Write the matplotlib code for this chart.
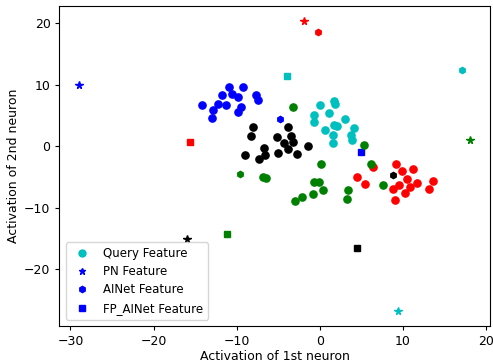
import matplotlib
matplotlib.use("Agg")
import matplotlib.pyplot as plt
from matplotlib.lines import Line2D

plt.rcParams["font.size"] = 9
plt.rcParams["xtick.major.size"] = 3.2
plt.rcParams["ytick.major.size"] = 3.2
plt.rcParams["xtick.major.pad"] = 3.0
plt.rcParams["ytick.major.pad"] = 3.0

classes = ["c", "b", "r", "g", "k"]

query_x = {
    "c": [-0.04, 1.68, 1.85, -0.76, 1.08, -0.67, 3.0, 0.56, 1.64, 2.09, 4.08, 1.6, 3.69, 3.89, 1.52],
    "b": [-10.96, -9.2, -11.76, -10.6, -9.84, -7.68, -7.44, -14.17, -12.2, -11.24, -9.44, -12.9, -9.8, -13.0],
    "r": [9.13, 9.9, 11.25, 10.5, 9.53, 11.69, 10.89, 8.81, 10.2, 13.57, 13.13, 8.97, 6.36, 4.49, 5.45],
    "g": [-3.2, 5.28, 0.12, 6.17, -6.8, -6.48, -0.72, -0.07, 0.36, -0.88, -2.11, -2.95, 3.41, 3.2, 7.6],
    "k": [-8.04, -3.8, -8.24, -5.11, -3.43, -4.36, -3.19, -1.44, -6.76, -3.84, -8.96, -6.6, -5.0, -2.76, -7.36],
}
query_y = {
    "c": [6.61, 7.26, 6.88, 5.1, 5.36, 3.9, 4.33, 2.55, 3.41, 3.2, 2.99, 1.79, 1.85, 0.97, 0.55],
    "b": [9.58, 9.58, 8.23, 8.5, 7.95, 8.28, 7.42, 6.61, 6.88, 6.66, 6.44, 5.9, 5.47, 4.55],
    "r": [-2.97, -4.06, -3.78, -5.41, -6.33, -5.95, -6.7, -7.03, -7.57, -5.67, -6.92, -8.81, -3.46, -5.03, -6.22],
    "g": [6.44, 0.23, -2.86, -2.86, -4.97, -5.19, -5.78, -5.89, -7.14, -7.79, -8.33, -8.93, -7.19, -8.54, -6.27],
    "k": [3.08, 3.08, 1.62, 1.41, 1.57, 0.55, 0.71, -0.05, -0.37, -0.54, -1.46, -1.46, -1.13, -1.3, -2.11],
}

pn_x = {"c": 9.4, "b": -29.0, "r": -1.92, "g": 18.1, "k": -16.0}
pn_y = {"c": -26.85, "b": 9.95, "r": 20.4, "g": 0.93, "k": -15.0}

ainet_x = {"c": 17.1, "b": -4.8, "r": -0.24, "g": -9.56, "k": 8.76}
ainet_y = {"c": 12.45, "b": 4.45, "r": 18.5, "g": -4.6, "k": -4.7}

fp_x = {"c": -4.0, "b": 4.92, "r": -15.64, "g": -11.2, "k": 4.49}
fp_y = {"c": 11.36, "b": -1.02, "r": 0.6, "g": -14.2, "k": -16.5}

legend_labels = ["Query Feature", "PN Feature", "AINet Feature", "FP_AINet Feature"]

fig = plt.figure(figsize=(4.93, 3.62), dpi=100)
ax = fig.add_axes([0.120, 0.0994, 0.874, 0.884])

for c in classes:
    ax.plot(query_x[c], query_y[c], "o", color=c, markersize=5.2, linestyle="none")
    ax.plot([pn_x[c]], [pn_y[c]], "*", color=c, markersize=5.5, linestyle="none")
    ax.plot([ainet_x[c]], [ainet_y[c]], "h", color=c, markersize=4.5, linestyle="none")
    ax.plot([fp_x[c]], [fp_y[c]], "s", color=c, markersize=4.5, linestyle="none")

handles = [
    Line2D([], [], marker="o", color="c", linestyle="none", markersize=5.0),
    Line2D([], [], marker="*", color="b", linestyle="none", markersize=5.0),
    Line2D([], [], marker="h", color="b", linestyle="none", markersize=4.5),
    Line2D([], [], marker="s", color="b", linestyle="none", markersize=4.5),
]
ax.legend(handles, legend_labels, loc="lower left", fontsize=8.5,
          labelspacing=0.45, borderaxespad=0.55)

ax.set_xlabel("Activation of 1st neuron", labelpad=2.0)
ax.set_ylabel("Activation of 2nd neuron", labelpad=3.0)

fig.savefig("out.png", dpi=100)
